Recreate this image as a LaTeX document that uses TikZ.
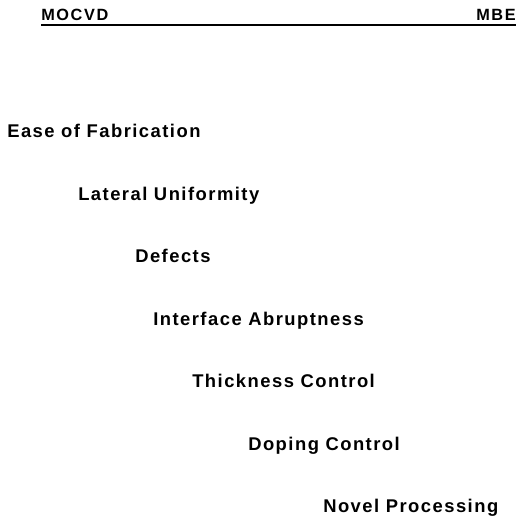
\documentclass[tikz,border=0pt]{standalone}
\usepackage{fontspec}
\setmainfont{Liberation Sans}[LetterSpace=8]
\usepackage{tikz}

\begin{document}
\begin{tikzpicture}[x=0.75pt, y=-0.75pt,
  item/.style={anchor=base west, inner sep=0pt, font=\bfseries\fontsize{13.8}{15}\selectfont},
  head/.style={inner sep=0pt, font=\bfseries\fontsize{12.2}{13}\selectfont\addfontfeatures{LetterSpace=10}}]
\useasboundingbox (0,0) rectangle (519,516);
% column headings with the rule beneath
\node[head, anchor=base west] (mocvd) at (41,20.5) {MOCVD};
\node[head, anchor=base east] (mbe) at (516,20.5) {MBE};
\draw [line width=1.1pt] ([yshift=-3.5pt]mocvd.base west) -- ([yshift=-3.5pt]mbe.base east);
% properties, staggered from left to right
\node[item] (ease) at (7,137.7) {Ease of Fabrication};
\node[item] (lateral) at (78,200.2) {Lateral Uniformity};
\node[item] (defects) at (135,262.7) {Defects};
\node[item] (interface) at (153,325.2) {Interface Abruptness};
\node[item] (thickness) at (192,387.7) {Thickness Control};
\node[item] (doping) at (248,450.2) {Doping Control};
\node[item] (novel) at (323,512.7) {Novel Processing};
\end{tikzpicture}
\end{document}
